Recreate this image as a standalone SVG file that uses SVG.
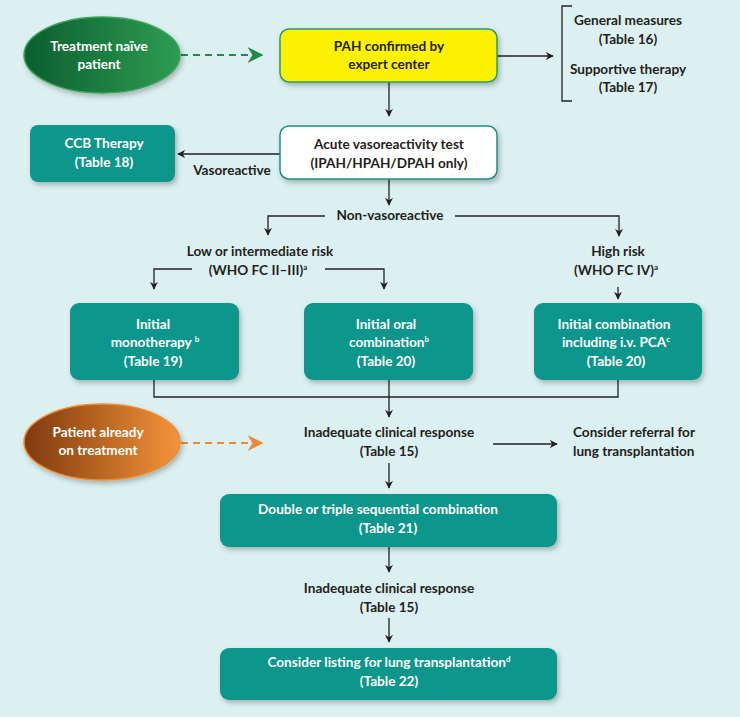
<svg xmlns="http://www.w3.org/2000/svg" width="740" height="717" viewBox="0 0 740 717">
<defs>
<style>
text{font-family:Lato,"Open Sans","Liberation Sans",sans-serif;font-weight:bold;font-size:13.6px;text-anchor:middle;fill:#231f20}
.w{fill:#ffffff}
.l{text-anchor:start}
.teal{fill:#0f968b}
.ln{stroke:#231f20;stroke-width:1.3;fill:none}
.sup{font-size:8px}
</style>
<linearGradient id="gg" x1="0" y1="0" x2="1" y2="0">
<stop offset="0" stop-color="#0b5e2f"/><stop offset="1" stop-color="#2e9c52"/>
</linearGradient>
<linearGradient id="og" x1="0" y1="0" x2="1" y2="0">
<stop offset="0" stop-color="#7e3a0e"/><stop offset="1" stop-color="#f4943a"/>
</linearGradient>
<filter id="sh" x="-10%" y="-10%" width="125%" height="135%">
<feDropShadow dx="2" dy="3" stdDeviation="2.5" flood-color="#000" flood-opacity="0.25"/>
</filter>
<marker id="ah" viewBox="0 0 10 10" refX="9" refY="5" markerWidth="8" markerHeight="8" orient="auto" markerUnits="userSpaceOnUse">
<path d="M0,0 L10,5 L0,10 L3,5 Z" fill="#231f20"/>
</marker>
<marker id="ahg" viewBox="0 0 10 10" refX="9" refY="5" markerWidth="16" markerHeight="16" orient="auto" markerUnits="userSpaceOnUse">
<path d="M0,0 L10,5 L0,10 L3,5 Z" fill="#1f8a4c"/>
</marker>
<marker id="aho" viewBox="0 0 10 10" refX="9" refY="5" markerWidth="16" markerHeight="16" orient="auto" markerUnits="userSpaceOnUse">
<path d="M0,0 L10,5 L0,10 L3,5 Z" fill="#ee8a35"/>
</marker>
</defs>
<rect x="0" y="0" width="740" height="717" fill="#dcf0f1"/>

<g id="connectors">
<line x1="181" y1="55" x2="262" y2="55" stroke="#1f8a4c" stroke-width="2.2" stroke-dasharray="7,5" marker-end="url(#ahg)"/>
<line x1="181" y1="443" x2="262" y2="443" stroke="#ee8a35" stroke-width="2.2" stroke-dasharray="7,5" marker-end="url(#aho)"/>
<line class="ln" x1="497" y1="56" x2="553" y2="56" marker-end="url(#ah)"/>
<path class="ln" d="M572,6 H562 V101 H572"/>
<line class="ln" x1="389" y1="82" x2="389" y2="116" marker-end="url(#ah)"/>
<line class="ln" x1="280" y1="154" x2="178" y2="154" marker-end="url(#ah)"/>
<line class="ln" x1="389" y1="179" x2="389" y2="205" marker-end="url(#ah)"/>
<path class="ln" d="M325,216 H268 V235" marker-end="url(#ah)"/>
<path class="ln" d="M455,216 H619 V236" marker-end="url(#ah)"/>
<path class="ln" d="M192,269 H154 V289" marker-end="url(#ah)"/>
<path class="ln" d="M325,269 H384 V289" marker-end="url(#ah)"/>
<line class="ln" x1="618" y1="287" x2="618" y2="299" marker-end="url(#ah)"/>
<path class="ln" d="M154,380 V397 H618 V380"/>
<line class="ln" x1="389" y1="380" x2="389" y2="417" marker-end="url(#ah)"/>
<line class="ln" x1="493" y1="444" x2="557" y2="444" marker-end="url(#ah)"/>
<line class="ln" x1="389" y1="463" x2="389" y2="488" marker-end="url(#ah)"/>
<line class="ln" x1="389" y1="547" x2="389" y2="572" marker-end="url(#ah)"/>
<line class="ln" x1="389" y1="618" x2="389" y2="642" marker-end="url(#ah)"/>
</g>

<g id="naive">
<ellipse cx="102" cy="55" rx="78" ry="38" fill="url(#gg)" stroke="#3aa35a" stroke-width="1.5" filter="url(#sh)"/>
<text class="w" x="99" y="51">Treatment naïve</text>
<text class="w" x="99" y="69">patient</text>
</g>

<g id="pah">
<rect x="280" y="29" width="217" height="53" rx="9" fill="#fff200" stroke="#2a9a72" stroke-width="1.5" filter="url(#sh)"/>
<text x="389" y="51">PAH confirmed by</text>
<text x="389" y="69">expert center</text>
</g>

<g id="general">
<text x="628" y="25">General measures</text>
<text x="628" y="44">(Table 16)</text>
<text x="628" y="74">Supportive therapy</text>
<text x="628" y="92">(Table 17)</text>
</g>

<g id="acute">
<rect x="280" y="126" width="217" height="53" rx="9" fill="#ffffff" stroke="#1a9085" stroke-width="1.5" filter="url(#sh)"/>
<text x="389" y="149">Acute vasoreactivity test</text>
<text x="389" y="168">(IPAH/HPAH/DPAH only)</text>
</g>

<g id="ccb">
<rect x="30" y="125" width="145" height="57" rx="8" class="teal" filter="url(#sh)"/>
<text class="w" x="104" y="148">CCB Therapy</text>
<text class="w" x="104" y="167">(Table 18)</text>
</g>

<g id="labels">
<text x="232" y="175">Vasoreactive</text>
<text x="390" y="220">Non-vasoreactive</text>
<text x="260" y="256">Low or intermediate risk</text>
<text x="258" y="275">(WHO FC II–III)<tspan class="sup" dy="-5">a</tspan></text>
<text x="618" y="256">High risk</text>
<text x="616" y="275">(WHO FC IV)<tspan class="sup" dy="-5">a</tspan></text>
</g>

<g id="mono">
<rect x="70" y="303" width="169" height="77" rx="9" class="teal" filter="url(#sh)"/>
<text class="w" x="153" y="329">Initial</text>
<text class="w" x="155" y="347">monotherapy <tspan class="sup" dy="-5">b</tspan></text>
<text class="w" x="153" y="366">(Table 19)</text>
</g>

<g id="oral">
<rect x="304" y="303" width="169" height="77" rx="9" class="teal" filter="url(#sh)"/>
<text class="w" x="386" y="329">Initial oral</text>
<text class="w" x="389" y="347">combination<tspan class="sup" dy="-5">b</tspan></text>
<text class="w" x="386" y="366">(Table 20)</text>
</g>

<g id="initcomb">
<rect x="534" y="303" width="168" height="77" rx="9" class="teal" filter="url(#sh)"/>
<text class="w" x="614" y="329">Initial combination</text>
<text class="w" x="616" y="347">including i.v. PCA<tspan class="sup" dy="-5">c</tspan></text>
<text class="w" x="616" y="366">(Table 20)</text>
</g>

<g id="already">
<ellipse cx="102" cy="442" rx="78" ry="38" fill="url(#og)" stroke="#f08a30" stroke-width="1.5" filter="url(#sh)"/>
<text class="w" x="98" y="437">Patient already</text>
<text class="w" x="98" y="455">on treatment</text>
</g>

<g id="inadequate1">
<text x="389" y="437">Inadequate clinical response</text>
<text x="389" y="456">(Table 15)</text>
</g>

<g id="referral">
<text class="l" x="573" y="437">Consider referral for</text>
<text class="l" x="573" y="456">lung transplantation</text>
</g>

<g id="double">
<rect x="220" y="494" width="337" height="53" rx="9" class="teal" filter="url(#sh)"/>
<text class="w" x="378" y="514">Double or triple sequential combination</text>
<text class="w" x="388" y="533">(Table 21)</text>
</g>

<g id="inadequate2">
<text x="389" y="593">Inadequate clinical response</text>
<text x="389" y="612">(Table 15)</text>
</g>

<g id="listing">
<rect x="220" y="648" width="337" height="52" rx="9" class="teal" filter="url(#sh)"/>
<text class="w" x="389" y="667">Consider listing for lung transplantation<tspan class="sup" dy="-5">d</tspan></text>
<text class="w" x="389" y="686">(Table 22)</text>
</g>
</svg>
